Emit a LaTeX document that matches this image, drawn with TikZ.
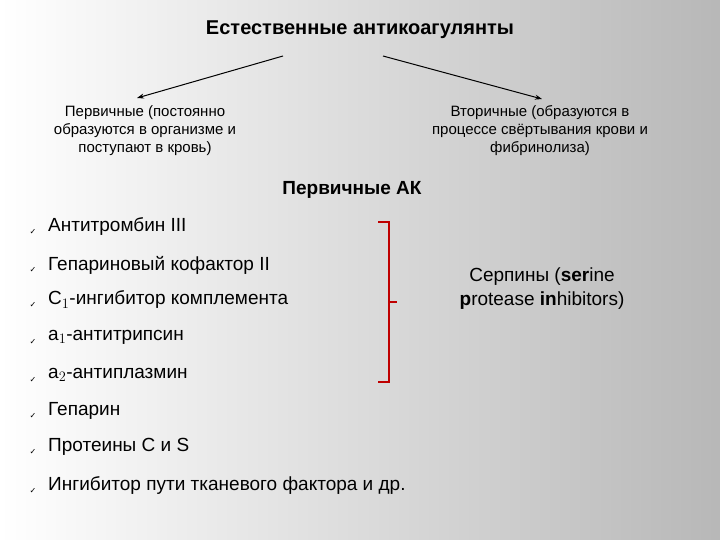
\documentclass[tikz,border=0pt]{standalone}
\usepackage{fontspec}
\usetikzlibrary{arrows.meta}
\setmainfont{Liberation Sans}
\newfontfamily\djvfont{DejaVu Sans}
\begin{document}
\begin{tikzpicture}[x=1pt,y=-1pt,
  item/.style={anchor=west,font=\fontsize{19}{22}\selectfont,inner sep=0},
  chk/.style={font=\djvfont\fontsize{8}{8}\selectfont,inner sep=0},
  sub/.style={font=\fontsize{15}{18}\selectfont,align=center,inner sep=0},
  arr/.style={-{Stealth[length=7pt,width=5pt]},line width=1pt}]
\shade[left color=white,right color=black!28] (0,0) rectangle (720,540);
\useasboundingbox (0,0) rectangle (720,540);
\node[font=\bfseries\fontsize{20}{24}\selectfont] (t) at (360,30) {Естественные антикоагулянты};
\coordinate (a1) at (283,56); \coordinate (a2) at (383,56);
\node[sub] (l) at (145,131) {Первичные (постоянно\\образуются в организме и\\поступают в кровь)};
\node[sub] (r) at (540,131) {Вторичные (образуются в\\процессе свёртывания крови и\\фибринолиза)};
\coordinate (l1) at (137,98); \coordinate (r1) at (542,99);
\draw[arr] (a1) -- (l1);
\draw[arr] (a2) -- (r1);
\node[font=\bfseries\fontsize{19}{22}\selectfont] (h) at (352,190) {Первичные АК};
\foreach \y/\t [count=\i] in {227/{Антитромбин III},265/{Гепариновый кофактор II},300/{C$_1$-ингибитор комплемента},337/{а$_1$-антитрипсин},375/{а$_2$-антиплазмин},411/{Гепарин},447/{Протеины С и S},486/{Ингибитор пути тканевого фактора и др.}}{
  \node[chk] (c\i) at (33,\y+5) {✓};
  \node[item] (i\i) at (48,\y) {\t};
}
\coordinate (b1) at (378,222); \coordinate (b2) at (389,222);
\coordinate (b3) at (389,382); \coordinate (b4) at (378,382);
\coordinate (bm) at (389,302); \coordinate (bt) at (397,302);
\draw[red!75!black,line width=1.6pt] (b1) -- (b2) -- (b3) -- (b4);
\draw[red!75!black,line width=1.6pt] (bm) -- (bt);
\node[font=\fontsize{19}{24}\selectfont,align=center] (s) at (542,289) {Серпины (\textbf{ser}ine\\\textbf{p}rotease \textbf{in}hibitors)};
\end{tikzpicture}
\end{document}
